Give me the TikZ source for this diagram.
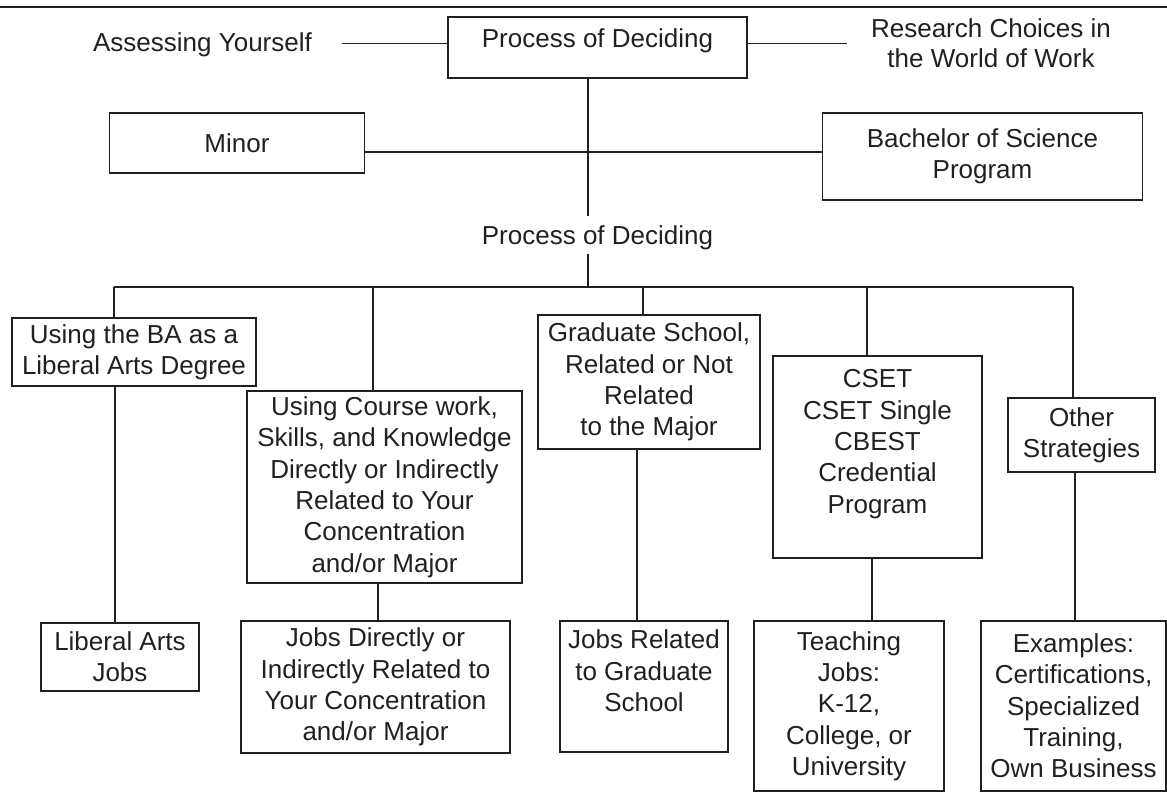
\documentclass[tikz,border=0pt]{standalone}
\usepackage{fontspec}
\setmainfont{Liberation Sans}
\definecolor{ink}{RGB}{35,31,32}
\begin{document}
\begin{tikzpicture}[x=0.75pt,y=-0.75pt,
  every node/.style={text=ink, font=\fontsize{19.5pt}{23.5pt}\selectfont},
  box/.style={draw=ink, line width=1.4pt, align=center, inner xsep=2pt, inner ysep=0pt},
  conn/.style={draw=ink, line width=0.8pt},
  rule/.style={draw=ink, line width=1.2pt}
]
\useasboundingbox (0,0) rectangle (1167,793);
\draw[rule] (0,7) -- (1167,7);

% top row
\node[box, minimum width=224.25pt, text height=22.9pt, text depth=22.9pt] (pod) at (597.5,47.5) {Process of Deciding};
\node[inner xsep=22.5pt] (assess) at (202.5,45) {Assessing Yourself};
\node[align=center, inner xsep=18pt, font=\fontsize{19.5pt}{22.5pt}\selectfont] (research) at (991,43) {Research Choices in\\the World of Work};
\node[box, minimum width=191.25pt, minimum height=45pt] (minor) at (237,143) {Minor};
\node[box, minimum width=240pt, minimum height=65.25pt] (bach) at (982.5,156.5) {Bachelor of Science\\Program};
\node[text height=14pt, text depth=0pt, inner ysep=7pt] (pd2) at (597.5,235) {Process of Deciding};

% middle row
\node[box, minimum width=183.4pt, minimum height=51pt] (lib) at (134,352) {Using the BA as a\\Liberal Arts Degree};
\node[box, minimum width=206.25pt, minimum height=144pt] (ucw) at (384.5,487) {Using Course work,\\Skills, and Knowledge\\Directly or Indirectly\\Related to Your\\Concentration\\and/or Major};
\node[box, minimum width=166.5pt, minimum height=100.5pt] (grad) at (649,382) {Graduate School,\\Related or Not\\Related\\to the Major};
\node[box, minimum width=156.75pt, minimum height=151.5pt] (cset) at (877.5,457) {CSET\\CSET Single\\CBEST\\Credential\\Program\\\mbox{}};
\node[box, minimum width=110.25pt, minimum height=55.5pt] (other) at (1081.5,435) {Other\\Strategies};

% bottom row
\node[box, minimum width=118.5pt, minimum height=51pt] (laj) at (120,657) {Liberal Arts\\Jobs};
\node[box, minimum width=201.75pt, minimum height=99pt] (jdr) at (375.5,687) {Jobs Directly or\\Indirectly Related to\\Your Concentration\\and/or Major};
\node[box, minimum width=126pt, minimum height=98.25pt] (jrg) at (644,686.5) {Jobs Related\\to Graduate\\School\\\mbox{}};
\node[box, minimum width=142.5pt, minimum height=127.5pt] (teach) at (849,706) {Teaching\\Jobs:\\K-12,\\College, or\\University};
\node[box, minimum width=138.75pt, minimum height=127.5pt] (ex) at (1073.5,706) {Examples:\\Certifications,\\Specialized\\Training,\\Own Business};

% helper coordinates
\coordinate (vx) at (588,0);
\coordinate (ly) at (0,43.5);
\coordinate (hy) at (0,152);
\coordinate (b1) at (114,287);
\coordinate (b2) at (373,287);
\coordinate (b3) at (643,287);
\coordinate (b4) at (867,287);
\coordinate (b5) at (1073,287);
\coordinate (e1) at (115,0);
\coordinate (e2) at (378,0);
\coordinate (e3) at (637,0);
\coordinate (e4) at (872,0);
\coordinate (e5) at (1075,0);

% connectors
\draw[conn] (assess.east |- ly) -- (pod.west |- ly);
\draw[conn] (pod.east |- ly) -- (research.west |- ly);
\draw[conn] (pod.south -| vx) -- (pd2.north -| vx);
\draw[conn] (pd2.south -| vx) -- (b1 -| vx);
\draw[conn] (minor.east |- hy) -- (bach.west |- hy);
\draw[conn] (b1) -- (b5);
\draw[conn] (b1) -- (b1 |- lib.north);
\draw[conn] (b2) -- (b2 |- ucw.north);
\draw[conn] (b3) -- (b3 |- grad.north);
\draw[conn] (b4) -- (b4 |- cset.north);
\draw[conn] (b5) -- (b5 |- other.north);
\draw[conn] (e1 |- lib.south) -- (e1 |- laj.north);
\draw[conn] (e2 |- ucw.south) -- (e2 |- jdr.north);
\draw[conn] (e3 |- grad.south) -- (e3 |- jrg.north);
\draw[conn] (e4 |- cset.south) -- (e4 |- teach.north);
\draw[conn] (e5 |- other.south) -- (e5 |- ex.north);
\end{tikzpicture}
\end{document}
